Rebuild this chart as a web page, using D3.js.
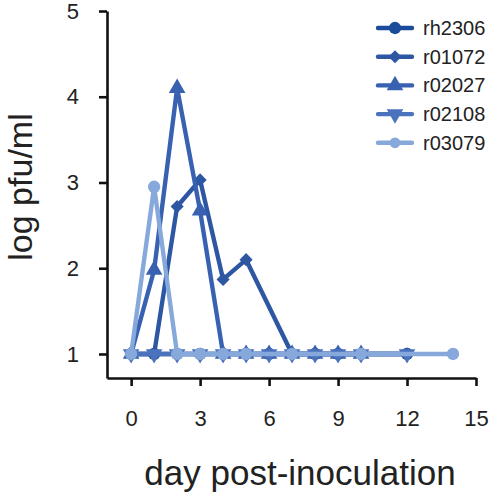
<!DOCTYPE html>
<html>
<head>
<meta charset="utf-8">
<script src="https://cdn.jsdelivr.net/npm/d3@7"></script>
<style>
  body { margin: 0; background: #fff; }
  svg { font-family: "Liberation Sans", Arial, sans-serif; }
</style>
</head>
<body>
<svg id="chart" width="491" height="494"></svg>
<script>
// virus titres per animal

var names = ["rh2306", "r01072", "r02027", "r02108", "r03079"];
var colors = ["#1b4b9b", "#2d56a3", "#3862b1", "#4b72bd", "#87a8db"];

var days_rh2306 = [0, 1, 2, 3, 4, 5, 6, 7, 8, 9, 10, 12];
var vals_rh2306 = [1, 1, 1, 1, 1, 1, 1, 1, 1, 1, 1, 1];

var days_r01072 = [0, 1, 2, 3, 4, 5, 7, 8, 9, 10, 12];
var vals_r01072 = [1, 1, 2.72, 3.03, 1.87, 2.1, 1, 1, 1, 1, 1];

var days_r02027 = [0, 1, 2, 3, 4, 5, 6, 7, 8, 9, 10];
var vals_r02027 = [1, 1.98, 4.1, 2.67, 1, 1, 1, 1, 1, 1, 1];

var days_r02108 = [0, 1, 2, 3, 4, 5, 6, 7, 8, 9, 10, 12];
var vals_r02108 = [1, 1, 1, 1, 1, 1, 1, 1, 1, 1, 1, 1];

var days_r03079 = [0, 1, 2, 3, 4, 5, 7, 10, 14];
var vals_r03079 = [1, 2.95, 1, 1, 1, 1, 1, 1, 1];

var xTicks = [0, 3, 6, 9, 12, 15];
var yTicks = [1, 2, 3, 4, 5];

var allDays = [days_rh2306, days_r01072, days_r02027, days_r02108, days_r03079];
var allVals = [vals_rh2306, vals_r01072, vals_r02027, vals_r02108, vals_r03079];

var series = names.map((n, i) => ({
    name: n,
    color: colors[i],
    points: allDays[i].map((d, j) => ({ day: d, val: allVals[i][j] }))
}));

// marker shapes, same order as names
var shapes = [
    { type: d3.symbolCircle, size: 120, rot: 0 },
    { type: d3.symbolDiamond2, size: 110, rot: 0 },
    { type: d3.symbolTriangle, size: 120, rot: 0 },
    { type: d3.symbolTriangle, size: 120, rot: 180 },
    { type: d3.symbolCircle, size: 120, rot: 0 }
];

var svg = d3.select("#chart");

var x = d3.scaleLinear().domain([-1.05, 15]).range([107, 476]);
var y = d3.scaleLinear().domain([0.72, 5]).range([378, 11]);

// axes
var xAxis = svg.append("g")
        .attr("transform", "translate(0,378)")
        .call(d3.axisBottom(x).tickValues(xTicks).tickFormat(d3.format("d"))
                .tickSize(8).tickSizeOuter(0).tickPadding(24));

var yAxis = svg.append("g")
        .attr("transform", "translate(107,0)")
        .call(d3.axisLeft(y).tickValues(yTicks).tickFormat(d3.format("d"))
                .tickSize(8).tickSizeOuter(0).tickPadding(20));

[xAxis, yAxis].forEach(a => {
    a.select(".domain").attr("stroke", "#111").attr("stroke-width", 2.6);
    a.selectAll(".tick line").attr("stroke", "#111").attr("stroke-width", 2.6);
    a.selectAll(".tick text").attr("fill", "#222").style("font-size", "22px");
});

// lines and markers
var line = d3.line().x(d => x(d.day)).y(d => y(d.val));

var g = svg.append("g");

series.forEach((s, i) => {
    var sg = g.append("g");
    sg.append("path")
            .datum(s.points)
            .attr("d", line)
            .attr("fill", "none")
            .attr("stroke", s.color)
            .attr("stroke-width", 4.4)
            .attr("stroke-linejoin", "round");

    sg.selectAll("path.mark")
            .data(s.points)
            .join("path")
            .attr("class", "mark")
            .attr("d", d3.symbol().type(shapes[i].type).size(shapes[i].size))
            .attr("transform", d => "translate(" + x(d.day) + "," + y(d.val) + ") rotate(" + shapes[i].rot + ")")
            .attr("fill", s.color);
});

// legend
var legend = svg.append("g");
series.forEach((s, i) => {
    var ly = 28 + i * 28.7;
    legend.append("line")
            .attr("x1", 378).attr("x2", 412)
            .attr("y1", ly).attr("y2", ly)
            .attr("stroke", s.color)
            .attr("stroke-width", 4.4)
            .attr("stroke-linecap", "round");
    legend.append("path")
            .attr("d", d3.symbol().type(shapes[i].type).size(shapes[i].size * (i == 4 ? 0.75 : 1)))
            .attr("transform", "translate(395," + ly + ") rotate(" + shapes[i].rot + ")")
            .attr("fill", s.color);
    legend.append("text")
            .attr("x", 423)
            .attr("y", ly)
            .attr("dy", "0.35em")
            .attr("fill", "#222")
            .style("font-size", "20px")
            .text(s.name);
});

// axis titles
svg.append("text")
        .attr("x", 300)
        .attr("y", 485)
        .attr("text-anchor", "middle")
        .attr("fill", "#222")
        .style("font-size", "35px")
        .text("day post-inoculation");

svg.append("text")
        .attr("transform", "translate(32,187) rotate(-90)")
        .attr("text-anchor", "middle")
        .attr("fill", "#222")
        .style("font-size", "34px")
        .text("log pfu/ml");
</script>
</body>
</html>
